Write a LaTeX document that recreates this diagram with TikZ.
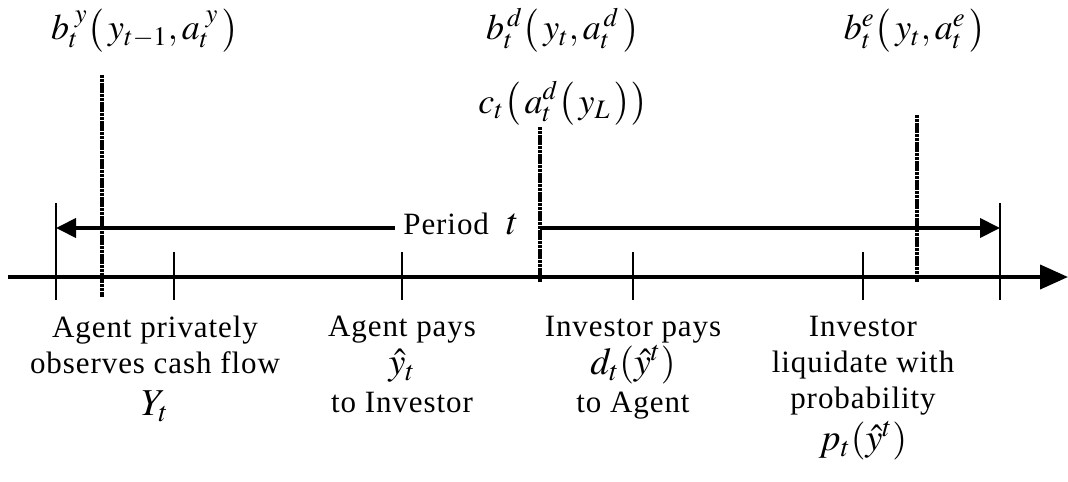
\documentclass[tikz,border=0pt]{standalone}
\usepackage{mathptmx}
\usepackage[no-math]{fontspec}
\setmainfont{Liberation Serif}[LetterSpace=3]
\usetikzlibrary{arrows.meta}
\newcommand{\mymath}[1]{{\fontsize{19}{22}\selectfont$#1$}}
\begin{document}
\begin{tikzpicture}[x=0.5pt,y=-0.5pt,
  axisline/.style={line width=2pt},
  tickmark/.style={line width=1pt},
  eventline/.style={line width=2pt, dash pattern=on 1.6pt off 0.3pt},
  periodarrow/.style={line width=2pt,-{Triangle[length=10pt,width=9.5pt]}},
  lbl/.style={font=\fontsize{15.5}{18}\selectfont, align=center, inner sep=0pt, anchor=north},
  toplbl/.style={font=\fontsize{18}{21}\selectfont, inner sep=0pt, anchor=base}]
\useasboundingbox (0,0) rectangle (1068,481);

% main time axis
\coordinate (axL) at (8,277);
\coordinate (axR) at (1068,277);
\draw[axisline,-{Triangle[length=14pt,width=12pt]}] (axL) -- (axR);

% ticks
\draw[tickmark] (56,203) -- (56,300);
\draw[tickmark] (174,252) -- (174,300);
\draw[tickmark] (402,252) -- (402,300);
\draw[tickmark] (633,252) -- (633,300);
\draw[tickmark] (863,252) -- (863,300);
\draw[tickmark] (1000,203) -- (1000,300);

% event lines
\draw[eventline] (102,75) -- (102,297);
\draw[eventline] (540,127) -- (540,282);
\draw[eventline] (917,115) -- (917,282);

% period arrows
\node[font=\fontsize{15.5}{18}\selectfont, inner sep=0pt, anchor=west] (period) at (403,224) {Period\ \ \mymath{t}};
\coordinate (pLs) at (395,228);
\coordinate (pLe) at (56,228);
\coordinate (pRs) at (540,228);
\coordinate (pRe) at (1000,228);
\draw[periodarrow] (pLs) -- (pLe);
\draw[periodarrow] (pRs) -- (pRe);

% top labels
\node[toplbl] (by) at (145,40) {$b_t^{\,\,y}\bigl(\,y_{t-1},a_t^{\,\,y}\,\bigr)$};
\node[toplbl] (bd) at (563,40) {$b_t^{\,d}\bigl(\,y_t,a_t^{\,d}\,\bigr)$};
\node[toplbl] (be) at (915,40) {$b_t^{e}\bigl(\,y_t,a_t^{e}\,\bigr)$};
\node[toplbl] (ct) at (563,113) {$c_t\bigl(\,a_t^{d}\bigl(\,y_L\,\bigr)\bigr)$};

% bottom labels
\node[lbl] (obs) at (155,316) {Agent privately\\ observes cash flow\\[3pt] \mymath{Y_t}};
\node[lbl] (pays) at (402,316) {Agent pays\\[1pt] \mymath{\hat{y}_t}\\[1pt] to Investor};
\node[lbl] (inv) at (633,316) {Investor pays\\[1pt] \mymath{d_t(\hat{y}^t)}\\[1pt] to Agent};
\node[lbl] (liq) at (863,316) {Investor\\ liquidate with\\ probability\\[3pt] \mymath{p_t(\hat{y}^t)}};
\end{tikzpicture}
\end{document}
